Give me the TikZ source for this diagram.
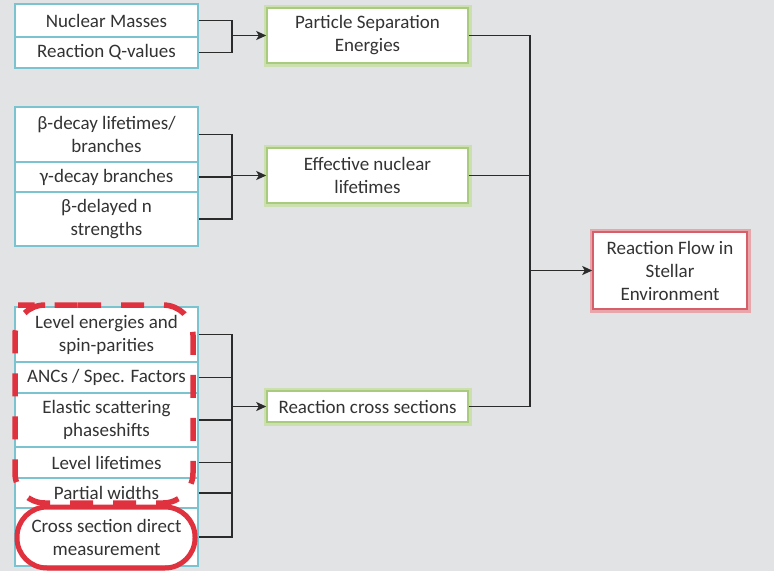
\documentclass[tikz,border=0pt]{standalone}
\usepackage{fontspec}
\setmainfont{Carlito}
\usetikzlibrary{arrows.meta}
\definecolor{bg}{HTML}{E2E3E5}
\definecolor{bluebd}{HTML}{7CC3D0}
\definecolor{greenbd}{HTML}{A9CB7E}
\definecolor{greenglow}{HTML}{CCDFAE}
\definecolor{redbd}{HTML}{D6606A}
\definecolor{redglow}{HTML}{E8A6AB}
\definecolor{txt}{HTML}{333333}
\definecolor{conn}{HTML}{2B2B2B}
\definecolor{mark}{HTML}{E0323E}
\tikzset{
  base/.style={fill=white, text=txt, align=center, inner sep=0pt,
    font=\fontsize{19}{23}\selectfont},
  inbox/.style={base, draw=bluebd, line width=1.6pt, minimum width=183pt},
  midbox/.style={base, draw=greenbd, line width=1.5pt, minimum width=201pt,
    preaction={draw=greenglow, line width=7pt}},
  outbox/.style={base, draw=redbd, line width=1.5pt, minimum width=154pt, minimum height=77pt,
    preaction={draw=redglow, line width=7pt}},
  link/.style={draw=conn, line width=1.7pt},
  arr/.style={link, -{Stealth[length=10pt,width=9pt,inset=2.5pt]}},
  dashmark/.style={draw=mark, line width=5.5pt, dash pattern=on 23pt off 20pt, rounded corners=30pt},
  solidmark/.style={draw=mark, line width=5pt, rounded corners=30pt}
}
\begin{document}
\begin{tikzpicture}[x=1pt,y=-1pt]
\fill[bg] (0,0) rectangle (774,571);
\useasboundingbox (0,0) rectangle (774,571);

% group 1
\node[inbox, minimum height=33pt] (n1) at (106.5,20.5) {Nuclear Masses};
\node[inbox, minimum height=31pt] (n2) at (106.5,52.5) {Reaction Q-values};
% group 2
\node[inbox, minimum height=55pt] (b1) at (106.5,134.5) {β-decay lifetimes/\\branches};
\node[inbox, minimum height=30pt] (b2) at (106.5,177) {γ-decay branches};
\node[inbox, minimum height=54pt] (b3) at (106.5,219) {β-delayed n\\strengths};
% group 3
\node[inbox, minimum height=55pt] (c1) at (106.5,334.5) {Level energies and\\spin-parities};
\node[inbox, minimum height=31pt] (c2) at (106.5,377.5) {ANCs / Spec. Factors};
\node[inbox, minimum height=54pt] (c3) at (106.5,420) {Elastic scattering\\phaseshifts};
\node[inbox, minimum height=31pt] (c4) at (106.5,462.5) {Level lifetimes};
\node[inbox, minimum height=30pt] (c5) at (106.5,493) {Partial widths};
\node[inbox, minimum height=58pt] (c6) at (106.5,537) {Cross section direct\\measurement};

% middle
\node[midbox, minimum height=55pt] (pse) at (367.5,35.5) {Particle Separation\\Energies};
\node[midbox, minimum height=55pt] (enl) at (367.5,175.5) {Effective nuclear\\lifetimes};
\node[midbox, minimum height=31pt] (rcs) at (367.5,406.5) {Reaction cross sections};

% right
\node[outbox] (rf) at (670,270.5) {Reaction Flow in\\Stellar\\Environment};

% junctions
\coordinate (j1) at (232,35.5);
\coordinate (j2) at (232,175.5);
\coordinate (j3) at (232,406.5);
\coordinate (k) at (530,270.5);

\foreach \n in {n1,n2} \draw[link] (\n.east) -| (j1);
\draw[arr] (j1) -- (pse.west);
\foreach \n in {b1,b2,b3} \draw[link] (\n.east) -| (j2);
\draw[arr] (j2) -- (enl.west);
\foreach \n in {c1,c2,c3,c4,c5,c6} \draw[link] (\n.east) -| (j3);
\draw[arr] (j3) -- (rcs.west);
\foreach \n in {pse,enl,rcs} \draw[link] (\n.east) -| (k);
\draw[arr] (k) -- (rf.west);

% red highlights
\draw[dashmark] (48,305) -- (193,305) -- (193,503) -- (15,503) -- (15,305) -- cycle;
\draw[solidmark] (17,507) rectangle (195,568);
\end{tikzpicture}
\end{document}
